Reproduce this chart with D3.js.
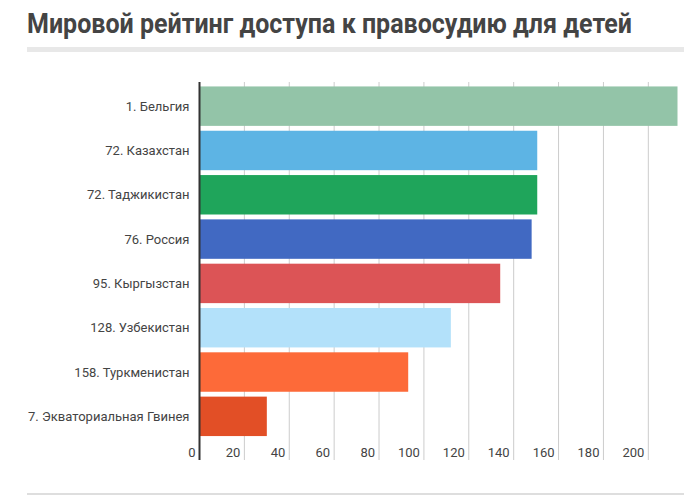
<!DOCTYPE html>
<html>
<head>
<meta charset="utf-8">
<script src="https://cdn.jsdelivr.net/npm/d3@7"></script>
<style>
  body { margin: 0; background: #fff; }
  text { font-family: Roboto, "Noto Sans", sans-serif; }
</style>
</head>
<body>
<div id="chart"></div>
<script>
// data
var countries = ["1. Бельгия", "72. Казахстан", "72. Таджикистан", "76. Россия",
                 "95. Кыргызстан", "128. Узбекистан", "158. Туркменистан", "7. Экваториальная Гвинея"];
var scores = [213, 150.5, 150.5, 148, 134, 112, 93, 30];
var colors = ["#93c4a8", "#5db4e4", "#1fa55b", "#4169c2", "#dc5456", "#b3e1fa", "#fd6a39", "#e24f26"];
var ticks = [0, 20, 40, 60, 80, 100, 120, 140, 160, 180, 200];

var W = 684, H = 498;
var plot = {left: 199.5, right: 677.5, top: 82, bottom: 460};

var svg = d3.select("#chart")
  .append("svg")
    .attr("width", W)
    .attr("height", H);

// title + grey rule under it
svg.append("text")
    .attr("x", 27)
    .attr("y", 32.5)
    .attr("textLength", 605)
    .attr("lengthAdjust", "spacingAndGlyphs")
    .style("font-size", "27px")
    .style("font-weight", "bold")
    .style("fill", "#444")
    .text("Мировой рейтинг доступа к правосудию для детей");

svg.append("rect")
    .attr("x", 27).attr("y", 47)
    .attr("width", W - 27).attr("height", 5)
    .style("fill", "#e8e8e8");

svg.append("rect")
    .attr("x", 27).attr("y", 493)
    .attr("width", W - 27).attr("height", 2)
    .style("fill", "#dedede");

var x = d3.scaleLinear()
  .domain([0, d3.max(scores)])
  .range([plot.left, plot.right]);

var y = d3.scaleBand()
  .domain(countries)
  .range([84, 438.5])
  .paddingInner(0.11)
  .paddingOuter(0.055);

// vertical gridlines
svg.append("g")
  .selectAll("line")
  .data(ticks.slice(1))
  .join("line")
    .attr("x1", d => x(d)).attr("x2", d => x(d))
    .attr("y1", plot.top).attr("y2", plot.bottom)
    .style("stroke", "#cccccc")
    .style("stroke-width", 1);

// tick labels sit to the left of their gridline
svg.append("g")
  .selectAll("text")
  .data(ticks)
  .join("text")
    .attr("x", d => x(d) - 4)
    .attr("y", 457)
    .attr("text-anchor", "end")
    .style("font-size", "13px")
    .style("fill", "#444")
    .text(d => d);

// bars
svg.append("g")
  .selectAll("rect")
  .data(countries)
  .join("rect")
    .attr("x", x(0))
    .attr("y", d => y(d))
    .attr("width", (d, i) => x(scores[i]) - x(0))
    .attr("height", y.bandwidth())
    .style("fill", (d, i) => colors[i]);

// category labels
svg.append("g")
  .selectAll("text")
  .data(countries)
  .join("text")
    .attr("x", 189.5)
    .attr("y", d => y(d) + y.bandwidth() / 2 + 4.5)
    .attr("text-anchor", "end")
    .style("font-size", "13px")
    .style("fill", "#444")
    .text(d => d);

// zero axis
svg.append("line")
    .attr("x1", x(0)).attr("x2", x(0))
    .attr("y1", plot.top).attr("y2", plot.bottom)
    .style("stroke", "#333")
    .style("stroke-width", 2);
</script>
</body>
</html>
